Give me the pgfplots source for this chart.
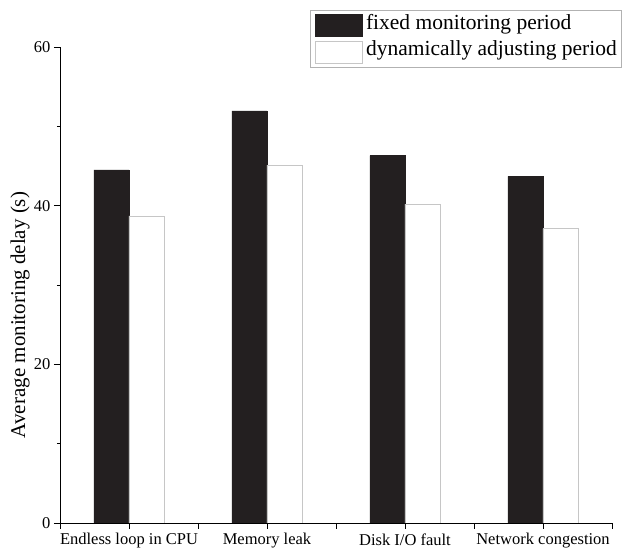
\documentclass[border=0pt]{standalone}
\usepackage{fontspec}
\setmainfont{Liberation Serif}
\usepackage{pgfplots}
\pgfplotsset{compat=1.18}
\definecolor{barblack}{HTML}{231F20}
\begin{document}
\begin{tikzpicture}
\path[use as bounding box] (0,0) rectangle (622pt,551pt);
\begin{axis}[
  at={(60pt,28pt)}, anchor=south west,
  scale only axis, width=552pt, height=476pt,
  axis lines*=left,
  ybar=0pt, bar width=35pt,
  xmin=0.5, xmax=4.5, ymin=0, ymax=60,
  xtick={1,2,3,4},
  xticklabels={Endless loop in CPU, Memory leak, Disk I/O fault, Network congestion},
  extra x ticks={0.5,1.5,2.5,3.5,4.5},
  extra x tick labels={},
  extra x tick style={grid=none},
  ytick={0,20,40,60}, minor ytick={10,30,50},
  tick align=outside,
  major tick length=6pt, minor tick length=3pt,
  y axis line style={thick}, x axis line style={thick},
  tick style={black, thick},
  x tick label style={font=\fontsize{16.5}{19}\selectfont, yshift=-1pt},
  y tick label style={font=\fontsize{16.5}{19}\selectfont},
  /pgf/number format/assume math mode=true,
  ylabel={Average monitoring delay (s)},
  ylabel style={font=\fontsize{21}{25}\selectfont, at={(axis description cs:-0.0725,0.437)}, anchor=center},
  legend style={at={(axis description cs:1,1)}, anchor=north east, xshift=9pt, yshift=37pt,
    draw=gray!60, inner xsep=4pt, inner ysep=3pt,
    font=\fontsize{21.5}{25}\selectfont,
    nodes={inner sep=0pt, text height=16pt, text depth=8pt},
    column sep=4pt, row sep=2.5pt},
  legend cell align=left,
  legend image code/.code={\draw[#1] (0pt,-11pt) rectangle (47pt,11pt);},
]
\addplot[fill=barblack, draw=barblack] coordinates {(1,44.5) (2,51.95) (3,46.3) (4,43.7)};
\addplot[fill=white, draw=gray!45] coordinates {(1,38.7) (2,45.1) (3,40.2) (4,37.1)};
\legend{fixed monitoring period, dynamically adjusting period}
\end{axis}
\end{tikzpicture}
\end{document}
